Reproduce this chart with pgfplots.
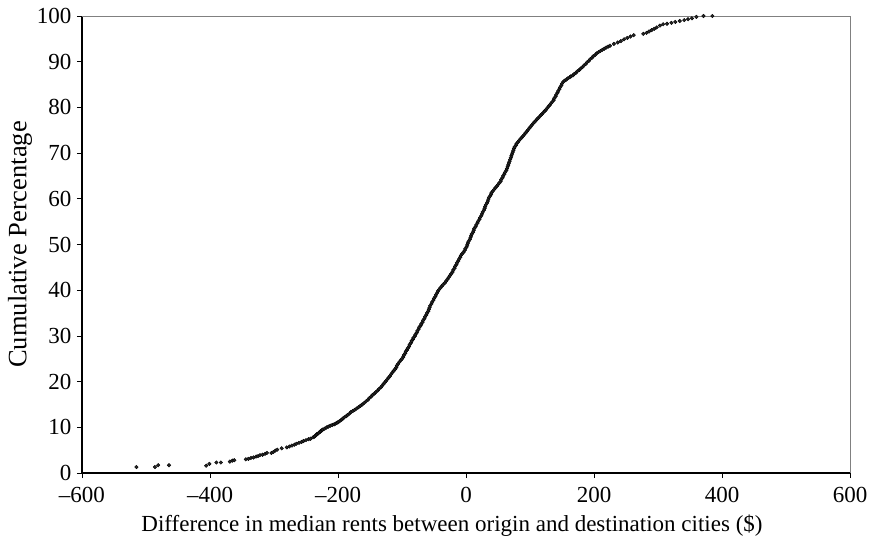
\documentclass[border=0pt]{standalone}
\usepackage{pgfplots}
\pgfplotsset{compat=1.18}
\usepackage{fontspec}
\setmainfont{Liberation Serif}

\begin{document}
\begin{tikzpicture}
\begin{axis}[
    scale only axis,
    width=768pt, height=457pt,
    xmin=-600, xmax=600,
    ymin=0, ymax=100,
    axis lines*=left,
    axis line style={black, line width=1.2pt},
    tick align=outside,
    major tick length=5pt,
    tick style={black, line width=0.6pt},
    xtick={-600,-400,-200,0,200,400,600},
    xticklabels={–600,–400,–200,0,200,400,600},
    ytick={0,10,20,30,40,50,60,70,80,90,100},
    /pgf/number format/assume math mode=true,
    tick label style={font=\fontsize{23}{26}\selectfont},
    xlabel={Difference in median rents between origin and destination cities (\$)},
    ylabel={Cumulative Percentage},
    xticklabel style={yshift=-6pt},
    yticklabel style={xshift=-2pt},
    xlabel style={font=\fontsize{23}{26}\selectfont, yshift=-5pt, xshift=-14pt},
    ylabel style={font=\fontsize{26.5}{30}\selectfont, yshift=-2pt},
    clip=false,
]
\draw[gray, line width=0.8pt] (rel axis cs:0,1) -- (rel axis cs:1,1) -- (rel axis cs:1,0);
\addplot[only marks, mark=*, mark size=1.8pt, draw=none, fill=black!85] coordinates {
(-515,1.3) (-486,1.3) (-481,1.7) (-464,1.7) (-406,1.6) (-401,2.0) (-390,2.3) (-383,2.3)
(-369,2.5) (-365,2.7) (-362,2.8) (-344,3.0) (-340,3.1) (-336,3.3) (-332,3.4) (-328,3.6)
(-325,3.7) (-322,3.9) (-318,4.0) (-314,4.2) (-311,4.4) (-304,4.4) (-301,4.6) (-298,4.9)
(-295,5.1) (-288,5.4) (-280,5.6) (-276,5.8) (-272,6.0) (-268,6.2) (-265,6.4) (-261,6.6)
(-257,6.8) (-254,7.0) (-250,7.2) (-246,7.4) (-243,7.5)
(-239,7.8) (-237,7.95) (-236,8.1) (-234,8.3) (-233,8.5) (-231,8.65) (-230,8.8) (-228,9.0)
(-227,9.2) (-225,9.35) (-224,9.5) (-221,9.7) (-218,9.95) (-215,10.15) (-212,10.35) (-209,10.5)
(-206,10.65) (-204,10.8) (-202,10.95) (-200,11.1) (-198,11.3) (-196,11.5) (-194,11.7) (-192,11.95)
(-190,12.2) (-187,12.45) (-185,12.7) (-182,13.0) (-180,13.3) (-177,13.55) (-174,13.8) (-171,14.1)
(-168,14.4) (-165,14.7) (-162,15.0) (-159,15.35) (-156,15.7) (-153,16.05) (-151,16.4) (-148,16.75)
(-146,17.1) (-143,17.4) (-141,17.7) (-138,18.05) (-136,18.4) (-133,18.75) (-131,19.1) (-129,19.45)
(-127,19.8) (-125,20.15) (-123,20.5) (-121,20.85) (-119,21.2) (-117,21.6) (-115,22.0) (-113,22.35)
(-111,22.7) (-109,23.1) (-108,23.5) (-106,23.9) (-104,24.3) (-102,24.65) (-100,25.0) (-98,25.4)
(-97,25.8) (-95,26.2) (-94,26.6) (-92,26.95) (-91,27.3) (-89,27.7) (-88,28.1) (-86,28.5)
(-85,28.9) (-83,29.25) (-82,29.6) (-80,29.95) (-79,30.3) (-77,30.7) (-76,31.1) (-74,31.5)
(-73,31.9) (-71,32.25) (-70,32.6) (-68,33.0) (-67,33.4) (-65,33.8) (-64,34.2) (-62,34.6)
(-61,35.0) (-59,35.4) (-58,35.8) (-57,36.2) (-56,36.6) (-54,37.0) (-53,37.4) (-51,37.8)
(-50,38.2) (-48,38.6) (-47,39.0) (-45,39.4) (-44,39.8) (-42,40.15) (-40,40.5) (-38,40.85)
(-36,41.2) (-33,41.6) (-31,42.0) (-29,42.4) (-27,42.8) (-25,43.2) (-23,43.6) (-21,44.0)
(-20,44.4) (-18,44.8) (-17,45.2) (-15,45.6) (-14,46.0) (-12,46.4) (-11,46.8) (-9,47.2)
(-8,47.6) (-6,47.95) (-4,48.3) (-2,48.7) (-1,49.1) (1,49.5) (2,49.9) (3,50.3)
(4,50.7) (6,51.1) (7,51.5) (8,51.9) (9,52.3) (11,52.7) (12,53.1) (13,53.5)
(15,53.9) (16,54.3) (18,54.7) (19,55.1) (21,55.5) (22,55.9) (24,56.3) (25,56.7)
(26,57.1) (28,57.5) (29,57.9) (30,58.3) (31,58.7) (33,59.1) (34,59.5) (35,59.9)
(36,60.3) (38,60.65) (39,61.0) (40,61.35) (42,61.7) (44,62.05) (46,62.4) (48,62.75)
(50,63.1) (52,63.45) (54,63.8) (55,64.2) (57,64.6) (58,65.0) (60,65.4) (61,65.8)
(63,66.2) (64,66.6) (65,67.0) (66,67.4) (67,67.8) (68,68.2) (69,68.6) (70,69.0)
(71,69.4) (72,69.8) (73,70.2) (74,70.6) (75,71.0) (76,71.35) (78,71.7) (79,72.05)
(81,72.4) (83,72.75) (85,73.1) (87,73.4) (89,73.7) (91,74.05) (93,74.4) (95,74.75)
(97,75.1) (99,75.45) (101,75.8) (103,76.15) (105,76.5) (107,76.8) (109,77.1) (111,77.4)
(113,77.7) (115,78.0) (117,78.3) (119,78.6) (121,78.9) (123,79.2) (125,79.5) (127,79.85)
(129,80.2) (131,80.55) (133,80.9) (135,81.25) (137,81.6) (138,82.0) (140,82.4) (141,82.8)
(143,83.2) (144,83.6) (146,84.0) (147,84.4) (149,84.8) (150,85.2) (152,85.6) (154,85.85)
(157,86.1) (159,86.35) (162,86.6) (164,86.8) (167,87.0) (169,87.3) (172,87.6) (174,87.9)
(177,88.2) (179,88.5) (182,88.8) (184,89.15) (187,89.5) (189,89.85) (192,90.2) (194,90.55)
(197,90.9) (199,91.2) (202,91.5) (204,91.8) (207,92.1) (210,92.35) (213,92.6) (216,92.85)
(219,93.1) (222,93.3) (225,93.5)
(231,93.9) (237,94.2) (242,94.5) (247,94.9) (252,95.2)
(257,95.5) (262,95.8) (277,96.1) (282,96.3) (286,96.6) (290,96.9) (294,97.2) (298,97.5)
(303,97.9) (308,98.2) (314,98.3) (321,98.5) (327,98.7) (334,98.9) (341,99.1) (347,99.3)
(353,99.5) (360,99.8) (371,100) (385,100)
};
\path (rel axis cs:0,0) ++(-82pt,-70pt) coordinate (bl);
\path (rel axis cs:1,1) ++(24pt,16pt) coordinate (tr);
\path (bl) rectangle (tr);
\end{axis}
\end{tikzpicture}
\end{document}
